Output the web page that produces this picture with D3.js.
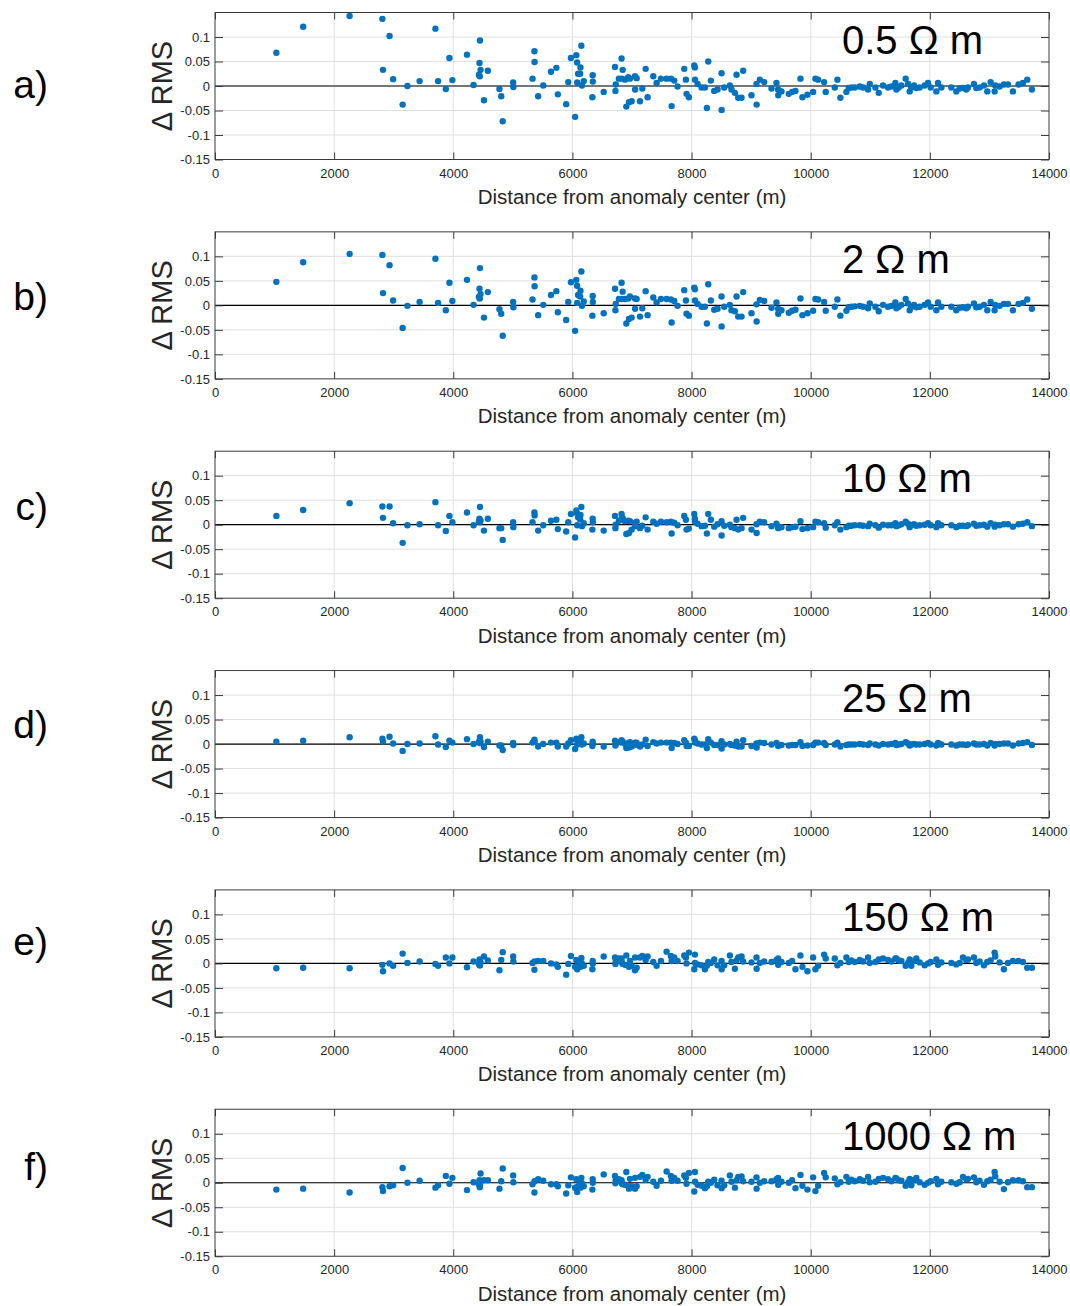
<!DOCTYPE html>
<html>
<head>
<meta charset="utf-8">
<script src="https://cdn.jsdelivr.net/npm/d3@7"></script>
<style>
  body { margin: 0; background: #fff; }
  svg text { font-family: "Liberation Sans", Arial, Helvetica, sans-serif; }
</style>
</head>
<body>
<svg id="chart" width="1070" height="1306"></svg>
<script>
// Station distance from the anomaly centre (m), shared by all six panels
const distance = [
  1030, 1480, 2260, 2810, 2820, 2930, 2990, 3150, 3230, 3435,
  3700, 3745, 3875, 3935, 3985, 4230, 4340, 4430, 4440, 4445,
  4448, 4458, 4515, 4580, 4775, 4805, 4830, 5005, 5008, 5330,
  5362, 5365, 5425, 5510, 5640, 5730, 5755, 5895, 5930, 5975,
  6045, 6065, 6078, 6080, 6095, 6130, 6135, 6150, 6160, 6190,
  6335, 6340, 6342, 6525, 6715, 6722, 6727, 6780, 6825, 6828,
  6843, 6882, 6905, 6937, 6950,
  6966, 6994, 7050, 7052, 7078, 7134, 7173, 7229, 7262, 7357,
  7413, 7486, 7581, 7653, 7665, 7709, 7765, 7877, 7905, 7916,
  7955, 8045, 8056, 8058, 8101, 8168, 8224, 8257, 8280, 8324,
  8380, 8436, 8503, 8505, 8548, 8643, 8670, 8727, 8755, 8783,
  8839, 8866, 9006, 9090, 9092, 9146, 9219, 9342, 9425, 9453,
  9455, 9509, 9632, 9688, 9744, 9828, 9861, 9945, 10040, 10079,
  10124, 10225, 10252, 10404, 10448, 10498, 10599, 10638, 10683, 10739,
  10823, 10879, 10963, 10991, 11086, 11142, 11214, 11298, 11354, 11421,
  11438, 11477, 11522, 11594, 11634, 11661, 11689, 11734, 11773, 11829,
  11913, 11969, 12014, 12109, 12137, 12193, 12360, 12444, 12500, 12556,
  12612, 12640, 12740, 12779, 12835, 12908, 12964, 13020, 13087, 13098,
  13171, 13243, 13311, 13394, 13489, 13562, 13635, 13713
];

// Change in RMS misfit at each station, one array per anomaly resistivity
const dRms0_5 = [
  0.068, 0.121, 0.143, 0.137, 0.033, 0.102, 0.014, -0.038, 0.000, 0.010,
  0.117, 0.010, -0.006, 0.057, 0.012, 0.064, 0.002, 0.023, 0.047, 0.020,
  0.093, 0.033, -0.029, 0.031, -0.006, -0.021, -0.072, 0.007, -0.002, 0.015,
  0.071, 0.049, -0.021, 0.001, 0.029, 0.037, -0.017, -0.037, 0.008, 0.057,
  -0.063, 0.063, 0.048, 0.007, 0.025, 0.025, 0.038, 0.082, 0.001, 0.010,
  -0.023, 0.022, 0.009, -0.012, 0.039, -0.010, 0.003, 0.015, 0.056, 0.015,
  0.033, 0.013, -0.042, 0.018, -0.033,
  0.015, -0.031, 0.020, -0.007, 0.016, -0.031, -0.005, 0.035, -0.023, 0.020,
  0.006, 0.015, 0.015, 0.015, -0.041, 0.011, -0.001, 0.035, 0.013, -0.016,
  -0.023, 0.042, 0.038, 0.013, 0.004, -0.003, -0.003, -0.045, 0.050, 0.011,
  -0.010, -0.007, 0.026, -0.049, -0.003, 0.001, -0.007, -0.014, 0.023, -0.024,
  -0.024, 0.031, -0.019, 0.004, -0.038, 0.013, 0.008, -0.005, 0.006, -0.007,
  -0.019, -0.011, -0.016, -0.012, -0.010, 0.015, -0.023, -0.018, -0.012, 0.015,
  0.013, 0.008, -0.012, -0.003, 0.013, -0.024, -0.012, -0.004, -0.003, -0.003,
  -0.001, -0.003, -0.007, 0.004, -0.003, -0.014, 0.001, -0.003, -0.001, 0.006,
  -0.007, -0.003, 0.001, 0.015, 0.004, -0.011, -0.003, 0.001, -0.004, -0.003,
  0.001, 0.006, -0.003, -0.011, 0.006, -0.003, -0.003, -0.011, -0.005, -0.004,
  -0.007, -0.003, 0.004, -0.004, -0.003, 0.001, -0.011, 0.008, -0.011, 0.001,
  -0.001, 0.003, 0.003, -0.011, 0.003, 0.006, 0.013, -0.007
];

const dRms2 = [
  0.048, 0.088, 0.105, 0.103, 0.025, 0.082, 0.010, -0.046, -0.001, 0.007,
  0.095, 0.005, -0.010, 0.046, 0.009, 0.052, 0.001, 0.017, 0.034, 0.014,
  0.076, 0.023, -0.025, 0.027, -0.008, -0.017, -0.062, 0.007, -0.004, 0.012,
  0.057, 0.039, -0.020, 0.001, 0.021, 0.029, -0.014, -0.030, 0.007, 0.047,
  -0.052, 0.052, 0.040, 0.005, 0.021, 0.018, 0.030, 0.069, -0.001, 0.008,
  -0.021, 0.019, 0.007, -0.016, 0.034, -0.010, 0.003, 0.013, 0.046, 0.013,
  0.028, 0.013, -0.037, 0.014, -0.028,
  0.018, -0.025, 0.014, -0.007, 0.013, -0.023, -0.006, 0.029, -0.020, 0.016,
  0.006, 0.013, 0.013, 0.012, -0.035, 0.009, -0.001, 0.031, 0.010, -0.017,
  -0.021, 0.036, 0.033, 0.010, 0.003, -0.003, -0.003, -0.037, 0.043, 0.010,
  -0.009, -0.007, 0.018, -0.043, -0.003, 0.001, -0.010, -0.012, 0.018, -0.023,
  -0.023, 0.027, -0.016, 0.002, -0.033, 0.011, 0.009, -0.005, 0.006, -0.007,
  -0.017, -0.010, -0.015, -0.011, -0.009, 0.014, -0.020, -0.016, -0.011, 0.013,
  0.012, 0.007, -0.011, -0.003, 0.012, -0.021, -0.011, -0.004, -0.003, -0.002,
  -0.001, -0.003, -0.006, 0.004, -0.003, -0.012, 0.001, -0.003, -0.001, 0.006,
  -0.006, -0.003, 0.001, 0.013, 0.004, -0.010, -0.003, 0.001, -0.004, -0.003,
  0.001, 0.006, -0.003, -0.010, 0.006, -0.003, -0.003, -0.010, -0.005, -0.004,
  -0.006, -0.003, 0.004, -0.004, -0.003, 0.001, -0.010, 0.007, -0.010, 0.001,
  -0.001, 0.003, 0.003, -0.010, 0.003, 0.005, 0.012, -0.007
];

const dRms10 = [
  0.018, 0.030, 0.044, 0.037, 0.014, 0.037, 0.003, -0.037, -0.001, 0.001,
  0.046, -0.001, -0.013, 0.018, 0.005, 0.025, -0.001, 0.007, 0.012, 0.005,
  0.036, 0.008, -0.012, 0.012, -0.007, -0.007, -0.031, 0.005, -0.005, 0.005,
  0.025, 0.019, -0.012, -0.001, 0.008, 0.010, -0.009, -0.014, 0.005, 0.022,
  -0.026, 0.029, 0.023, -0.001, 0.015, 0.011, 0.020, 0.036, -0.003, 0.003,
  -0.010, 0.012, 0.005, -0.012, 0.018, -0.007, 0.000, 0.008, 0.022, 0.011,
  0.014, 0.007, -0.019, 0.008, -0.017,
  0.007, -0.010, 0.004, -0.003, 0.006, -0.007, -0.002, 0.015, -0.010, 0.006,
  0.002, 0.006, 0.005, 0.006, -0.018, 0.004, -0.001, 0.018, 0.010, -0.010,
  -0.008, 0.022, 0.012, 0.006, 0.002, -0.003, -0.002, -0.018, 0.022, 0.010,
  -0.004, 0.001, 0.007, -0.022, -0.002, 0.000, -0.005, -0.007, 0.010, -0.010,
  -0.007, 0.014, -0.010, 0.001, -0.017, 0.006, 0.005, -0.003, 0.002, -0.004,
  -0.007, -0.005, -0.007, -0.005, -0.004, 0.007, -0.009, -0.007, -0.005, 0.006,
  0.005, 0.003, -0.006, -0.001, 0.005, -0.010, -0.005, -0.002, -0.002, -0.001,
  -0.001, -0.002, -0.003, 0.002, -0.001, -0.006, 0.000, -0.001, -0.001, 0.003,
  -0.003, -0.001, 0.001, 0.006, 0.002, -0.005, -0.001, 0.001, -0.002, -0.001,
  0.000, 0.003, -0.001, -0.005, 0.003, -0.001, -0.001, -0.005, -0.002, -0.002,
  -0.003, -0.001, 0.002, -0.002, -0.001, 0.000, -0.004, 0.003, -0.004, 0.000,
  -0.001, 0.001, 0.001, -0.004, 0.001, 0.002, 0.005, -0.003
];

const dRms25 = [
  0.005, 0.007, 0.014, 0.011, 0.005, 0.015, 0.001, -0.014, 0.000, 0.001,
  0.016, -0.001, -0.006, 0.007, 0.003, 0.010, 0.000, 0.005, 0.004, 0.002,
  0.014, 0.005, -0.006, 0.005, -0.003, -0.003, -0.012, 0.002, -0.002, 0.003,
  0.009, 0.005, -0.005, 0.000, 0.003, 0.003, -0.005, -0.005, 0.001, 0.008,
  -0.010, 0.011, 0.009, -0.001, 0.005, 0.004, 0.009, 0.014, -0.001, 0.001,
  -0.004, 0.005, 0.001, -0.005, 0.007, -0.003, 0.001, 0.004, 0.008, 0.003,
  0.005, 0.001, -0.008, 0.001, -0.007,
  0.004, -0.005, 0.003, -0.002, 0.003, -0.005, -0.001, 0.009, -0.004, 0.004,
  0.001, 0.003, 0.003, 0.003, -0.008, 0.002, 0.000, 0.008, 0.003, -0.004,
  -0.004, 0.011, 0.008, 0.003, 0.001, -0.001, -0.001, -0.008, 0.010, 0.003,
  -0.002, -0.002, 0.006, -0.009, -0.001, 0.000, -0.002, -0.003, 0.005, -0.005,
  -0.005, 0.008, -0.004, 0.001, -0.007, 0.003, 0.002, -0.001, 0.002, -0.002,
  -0.004, -0.002, -0.003, -0.002, -0.002, 0.004, -0.004, -0.003, -0.002, 0.003,
  0.003, 0.002, -0.002, -0.001, 0.003, -0.005, -0.002, -0.001, -0.001, -0.001,
  0.000, -0.001, -0.002, 0.001, -0.001, -0.003, 0.000, -0.001, 0.000, 0.002,
  -0.002, -0.001, 0.000, 0.004, 0.001, -0.003, -0.001, 0.000, -0.001, -0.001,
  0.000, 0.002, -0.001, -0.003, 0.002, -0.001, -0.001, -0.003, -0.001, -0.001,
  -0.002, -0.001, 0.001, -0.001, -0.001, 0.000, -0.003, 0.002, -0.003, 0.000,
  0.000, 0.001, 0.001, -0.003, 0.001, 0.002, 0.004, -0.002
];

const dRms150 = [
  -0.010, -0.009, -0.010, -0.003, -0.016, 0.000, -0.005, 0.020, 0.001, 0.004,
  -0.001, -0.005, 0.012, 0.000, 0.012, -0.008, 0.004, -0.001, 0.008, -0.004,
  -0.004, 0.002, 0.014, 0.006, -0.014, 0.007, 0.023, 0.014, 0.004, 0.001,
  -0.013, 0.004, 0.005, 0.005, 0.000, -0.002, -0.007, -0.023, -0.001, 0.015,
  -0.007, 0.007, -0.009, -0.012, -0.003, 0.004, -0.007, 0.011, 0.000, -0.005,
  -0.012, 0.005, 0.000, 0.014, 0.012, -0.001, 0.005, 0.010, 0.010, 0.003,
  -0.001, -0.003, 0.016, -0.005, -0.007,
  0.005, -0.005, -0.014, 0.012, -0.009, 0.012, 0.015, 0.007, 0.014, 0.003,
  -0.005, 0.005, 0.024, 0.015, 0.005, 0.012, 0.005, 0.016, 0.012, 0.000,
  0.022, -0.012, 0.018, 0.001, -0.002, -0.004, -0.012, -0.005, 0.003, 0.001,
  0.008, -0.004, 0.005, -0.012, -0.004, 0.016, 0.003, -0.011, 0.006, 0.012,
  0.014, 0.004, 0.002, 0.012, -0.011, 0.001, 0.004, 0.003, 0.007, 0.010,
  -0.003, 0.003, 0.001, 0.005, -0.012, 0.016, -0.007, -0.016, 0.012, -0.012,
  -0.005, 0.018, 0.010, 0.010, -0.004, 0.001, 0.012, 0.003, 0.006, 0.003,
  0.007, 0.004, 0.012, 0.001, 0.003, 0.008, 0.010, 0.007, 0.004, 0.010,
  0.010, 0.006, 0.005, -0.005, 0.001, 0.008, -0.005, 0.005, 0.010, 0.002,
  -0.004, 0.000, 0.003, 0.008, -0.003, 0.002, 0.001, -0.002, 0.001, 0.012,
  0.007, 0.008, 0.012, 0.001, 0.004, -0.004, 0.003, 0.006, 0.022, 0.014,
  0.002, -0.012, 0.001, 0.005, 0.005, 0.003, -0.009, -0.009
];

const dRms1000 = [
  -0.014, -0.012, -0.020, -0.009, -0.017, -0.007, -0.005, 0.030, 0.000, 0.004,
  -0.010, -0.005, 0.014, -0.002, 0.010, -0.015, 0.001, -0.003, 0.005, -0.009,
  -0.005, 0.019, 0.005, 0.005, -0.012, 0.003, 0.029, 0.015, 0.001, -0.003,
  -0.020, 0.003, 0.007, 0.004, -0.003, -0.003, -0.007, -0.022, -0.005, 0.011,
  -0.010, 0.007, -0.014, -0.019, -0.007, 0.003, -0.010, 0.010, -0.001, -0.007,
  -0.014, 0.007, 0.000, 0.017, 0.014, -0.001, 0.005, 0.007, 0.005, -0.001,
  -0.003, -0.004, 0.022, -0.007, -0.012,
  0.008, -0.007, -0.012, 0.010, -0.007, 0.012, 0.016, 0.006, 0.012, 0.002,
  -0.006, 0.004, 0.023, 0.014, 0.004, 0.010, 0.004, 0.015, 0.010, -0.002,
  0.020, -0.018, 0.022, 0.002, -0.004, -0.006, -0.011, -0.007, 0.002, 0.000,
  0.006, -0.005, 0.004, -0.011, -0.005, 0.015, 0.002, -0.010, 0.005, 0.012,
  0.013, 0.003, 0.002, 0.011, -0.012, 0.000, 0.003, 0.003, 0.007, 0.010,
  -0.004, 0.002, 0.000, 0.005, -0.011, 0.016, -0.006, -0.014, 0.011, -0.017,
  -0.006, 0.020, 0.011, 0.009, -0.003, 0.001, 0.012, 0.002, 0.006, 0.003,
  0.007, 0.004, 0.012, 0.001, 0.002, 0.008, 0.010, 0.007, 0.003, 0.010,
  0.009, 0.005, 0.004, -0.006, 0.001, 0.008, -0.005, 0.005, 0.010, 0.001,
  -0.004, 0.000, 0.003, 0.008, -0.003, 0.002, 0.001, -0.002, 0.001, 0.012,
  0.007, 0.008, 0.011, 0.001, 0.004, -0.004, 0.003, 0.006, 0.022, 0.013,
  0.002, -0.013, 0.001, 0.005, 0.005, 0.003, -0.009, -0.009
];

const panelLetters = ["a)", "b)", "c)", "d)", "e)", "f)"];
const resistivity = ["0.5", "2", "10", "25", "150", "1000"];
const xTickValues = [0, 2000, 4000, 6000, 8000, 10000, 12000, 14000];
const yTickValues = [-0.15, -0.1, -0.05, 0, 0.05, 0.1];
const yTickLabels = ["-0.15", "-0.1", "-0.05", "0", "0.05", "0.1"];

const series = [dRms0_5, dRms2, dRms10, dRms25, dRms150, dRms1000];

// Layout
const plotLeft = 215, plotRight = 1049;
const panelTop0 = 12.5, panelStep = 219.35, panelH = 147;
const letterShift = [2, -5, -15, -16, -18, -13];
const axisColor = "#3a3a3a", textColor = "#262626", gridColor = "#dfdfdf";
const markerColor = "#0072BD";

const svg = d3.select("#chart");
const x = d3.scaleLinear().domain([0, 14000]).range([plotLeft, plotRight]);

series.forEach((values, i) => {
  const top = panelTop0 + i * panelStep;
  const g = svg.append("g").attr("transform", `translate(0,${top})`);
  const y = d3.scaleLinear().domain([-0.15, 0.15]).range([panelH, 0]);

  // grid
  g.append("g").selectAll("line.gx")
    .data(xTickValues.slice(1, -1)).join("line")
    .attr("x1", d => x(d)).attr("x2", d => x(d))
    .attr("y1", 0).attr("y2", panelH)
    .attr("stroke", gridColor).attr("stroke-width", 1);
  g.append("g").selectAll("line.gy")
    .data(yTickValues.filter(v => v !== -0.15)).join("line")
    .attr("x1", plotLeft).attr("x2", plotRight)
    .attr("y1", d => y(d)).attr("y2", d => y(d))
    .attr("stroke", gridColor).attr("stroke-width", 1);

  // zero reference line
  g.append("line")
    .attr("x1", plotLeft).attr("x2", plotRight)
    .attr("y1", y(0)).attr("y2", y(0))
    .attr("stroke", "#000").attr("stroke-width", 1.2);

  // station markers
  g.append("g").selectAll("circle")
    .data(values.map((v, k) => [distance[k], v])).join("circle")
    .attr("cx", d => x(d[0])).attr("cy", d => y(d[1]))
    .attr("r", 3.2).attr("fill", markerColor);

  // axes with inward ticks on all four sides
  const styleAxis = sel => {
    sel.selectAll(".domain").remove();
    sel.selectAll(".tick line").attr("stroke", axisColor).attr("stroke-width", 1);
    sel.selectAll(".tick text").attr("fill", textColor).style("font-size", "13px");
  };
  g.append("g").attr("transform", `translate(0,${panelH})`)
    .call(d3.axisBottom(x).tickValues(xTickValues).tickFormat(d3.format("d"))
      .tickSizeInner(-7).tickSizeOuter(0).tickPadding(9))
    .call(styleAxis);
  g.append("g")
    .call(d3.axisTop(x).tickValues(xTickValues).tickFormat("")
      .tickSizeInner(-7).tickSizeOuter(0))
    .call(styleAxis);
  g.append("g").attr("transform", `translate(${plotLeft},0)`)
    .call(d3.axisLeft(y).tickValues(yTickValues)
      .tickFormat((d, k) => yTickLabels[k])
      .tickSizeInner(-8).tickSizeOuter(0).tickPadding(5))
    .call(styleAxis);
  g.append("g").attr("transform", `translate(${plotRight},0)`)
    .call(d3.axisRight(y).tickValues(yTickValues).tickFormat("")
      .tickSizeInner(-8).tickSizeOuter(0))
    .call(styleAxis);

  // axes box
  g.append("rect")
    .attr("x", plotLeft).attr("y", 0)
    .attr("width", plotRight - plotLeft).attr("height", panelH)
    .attr("fill", "none").attr("stroke", axisColor).attr("stroke-width", 1);

  // axis titles
  g.append("text")
    .attr("x", (plotLeft + plotRight) / 2).attr("y", panelH + 44.5)
    .attr("text-anchor", "middle").attr("fill", textColor)
    .style("font-size", "20.5px")
    .text("Distance from anomaly center (m)");
  g.append("text")
    .attr("transform", `translate(172,${y(0)}) rotate(-90)`)
    .attr("text-anchor", "middle").attr("fill", textColor)
    .style("font-size", "29px")
    .text("\u0394 RMS");

  // resistivity annotation
  g.append("text")
    .attr("x", 842).attr("y", 41)
    .attr("fill", "#000").style("font-size", "40px")
    .text(`${resistivity[i]} \u03A9 m`);

  // panel letter
  g.append("text")
    .attr("x", 48).attr("y", y(0) + letterShift[i] + 10)
    .attr("text-anchor", "end").attr("fill", "#000")
    .style("font-size", "39px")
    .text(panelLetters[i]);
});
</script>
</body>
</html>
